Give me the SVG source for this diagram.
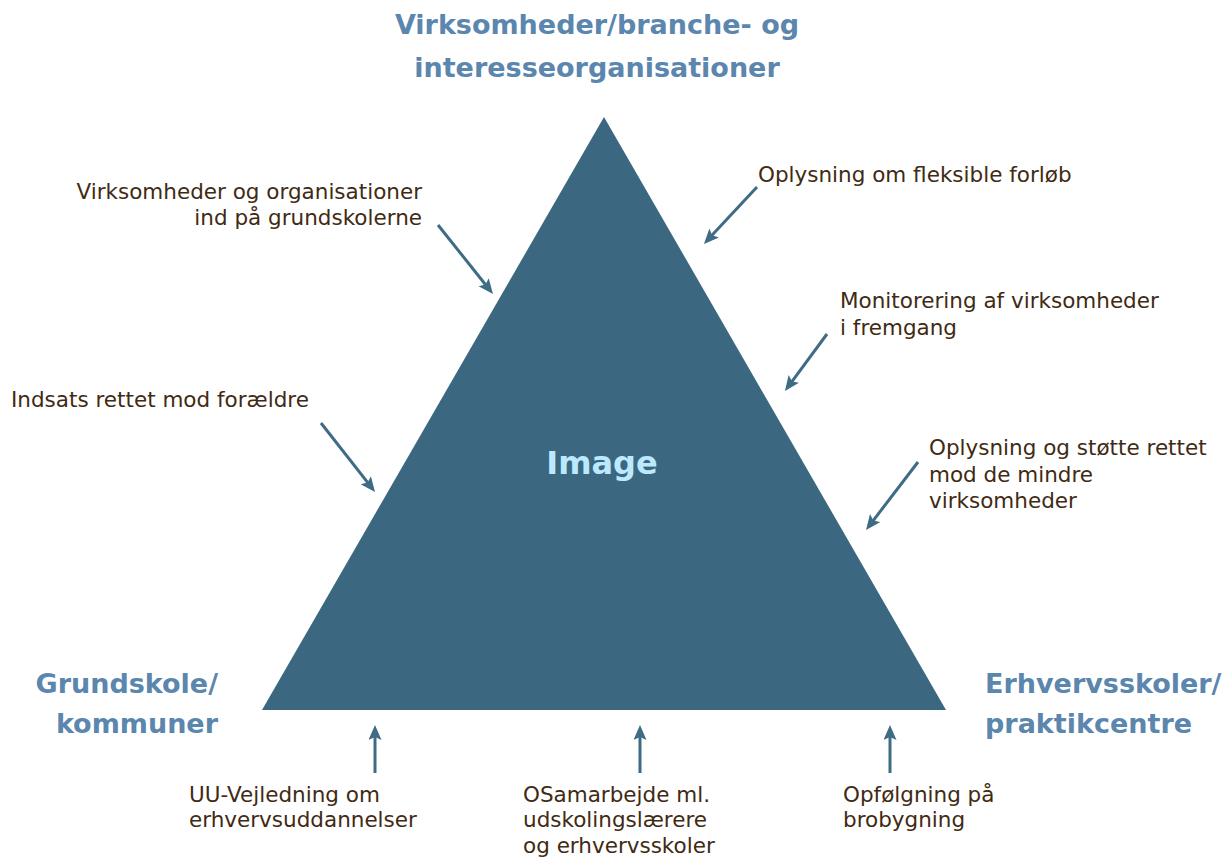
<svg xmlns="http://www.w3.org/2000/svg" width="1226" height="859" viewBox="0 0 1226 859">
  <style>
    .title { font-family: "DejaVu Sans", Verdana, sans-serif; font-weight: bold; font-size: 27px; fill: #5b86ad; }
    .label { font-family: "DejaVu Sans", Verdana, sans-serif; font-size: 21.5px; fill: #3f2a14; }
    .center { font-family: "DejaVu Sans", Verdana, sans-serif; font-weight: bold; font-size: 32px; fill: #bde9ff; }
    .arrow { stroke: #3d6c84; stroke-width: 3; fill: none; marker-end: url(#head); }
  </style>
  <defs>
    <marker id="head" markerUnits="userSpaceOnUse" markerWidth="16" markerHeight="14" refX="7" refY="6.5" orient="auto">
      <path d="M0,0 L15,6.5 L0,13 L3,6.5 z" fill="#3d6c84"/>
    </marker>
  </defs>
  <rect width="1226" height="859" fill="#ffffff"/>

  <g id="triangle">
    <polygon points="604,117 946,710 262,710" fill="#3b6880"/>
    <text class="center" x="602" y="474" text-anchor="middle">Image</text>
  </g>

  <g id="top-title">
    <text class="title" x="597" y="34" text-anchor="middle">Virksomheder/branche- og</text>
    <text class="title" x="597" y="77" text-anchor="middle">interesseorganisationer</text>
  </g>
  <g id="left-title">
    <text class="title" x="218" y="693" text-anchor="end">Grundskole/</text>
    <text class="title" x="218" y="733" text-anchor="end">kommuner</text>
  </g>
  <g id="right-title">
    <text class="title" x="985" y="693">Erhvervsskoler/</text>
    <text class="title" x="985" y="733">praktikcentre</text>
  </g>

  <g id="label-virksomheder">
    <text class="label" x="422" y="199" text-anchor="end">Virksomheder og organisationer</text>
    <text class="label" x="422" y="225" text-anchor="end">ind på grundskolerne</text>
  </g>
  <g id="label-foraeldre">
    <text class="label" x="11" y="407">Indsats rettet mod forældre</text>
  </g>
  <g id="label-fleksible">
    <text class="label" x="758" y="182">Oplysning om fleksible forløb</text>
  </g>
  <g id="label-monitorering">
    <text class="label" x="840" y="308">Monitorering af virksomheder</text>
    <text class="label" x="840" y="335">i fremgang</text>
  </g>
  <g id="label-stoette">
    <text class="label" x="929" y="455">Oplysning og støtte rettet</text>
    <text class="label" x="929" y="482">mod de mindre</text>
    <text class="label" x="929" y="508">virksomheder</text>
  </g>
  <g id="label-uu">
    <text class="label" x="189" y="802">UU-Vejledning om</text>
    <text class="label" x="189" y="827">erhvervsuddannelser</text>
  </g>
  <g id="label-samarbejde">
    <text class="label" x="523" y="802">OSamarbejde ml.</text>
    <text class="label" x="523" y="827">udskolingslærere</text>
    <text class="label" x="523" y="853">og erhvervsskoler</text>
  </g>
  <g id="label-opfoelgning">
    <text class="label" x="843" y="802">Opfølgning på</text>
    <text class="label" x="843" y="827">brobygning</text>
  </g>

  <g id="connectors">
    <line class="arrow" x1="438" y1="225" x2="488" y2="287.7"/>
    <line class="arrow" x1="321" y1="423" x2="370.1" y2="485.7"/>
    <line class="arrow" x1="757" y1="187" x2="709.4" y2="238.1"/>
    <line class="arrow" x1="827" y1="334" x2="789.7" y2="384.6"/>
    <line class="arrow" x1="918" y1="462" x2="870.9" y2="523.6"/>
    <line class="arrow" x1="375" y1="773" x2="375" y2="733"/>
    <line class="arrow" x1="640" y1="773" x2="640" y2="733"/>
    <line class="arrow" x1="890" y1="773" x2="890" y2="733"/>
  </g>
</svg>
